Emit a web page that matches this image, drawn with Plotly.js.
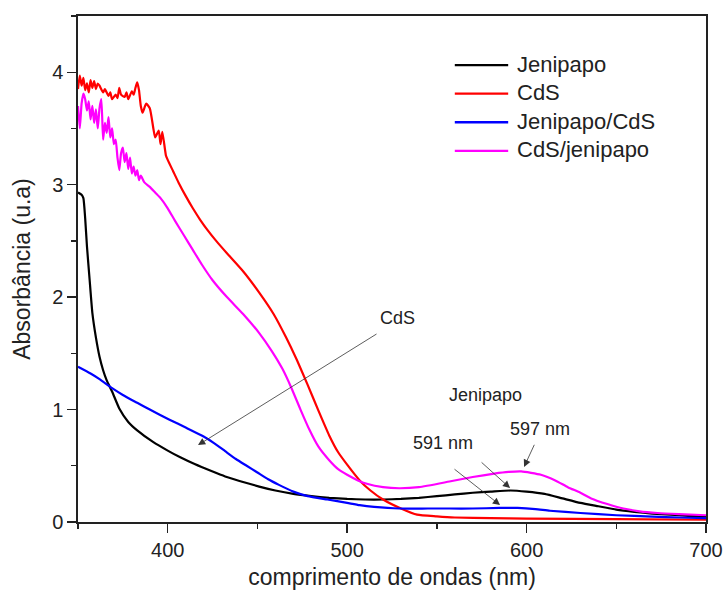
<!DOCTYPE html>
<html>
<head>
<meta charset="utf-8">
<script src="https://cdn.plot.ly/plotly-3.0.1.min.js"></script>
<style>
  html, body { margin: 0; padding: 0; background: #fff; }
  #chart { width: 724px; height: 601px; }
</style>
</head>
<body>
<div id="chart"></div>
<script>
// UV-Vis absorption spectra (wavelength in nm, absorbance in a.u.)

const jenipapoX = [350, 352, 353, 354, 355, 356.5, 358, 360, 362, 364, 366, 369, 373, 378, 383, 392, 400, 407, 415, 424, 432, 440, 451, 460, 470, 480, 490, 500, 510, 520, 530, 540, 550, 560, 570, 580, 591, 600, 610, 620, 630, 640, 650, 660, 670, 680, 690, 700];
const jenipapoY = [2.93, 2.91, 2.88, 2.70, 2.45, 2.15, 1.86, 1.64, 1.47, 1.35, 1.26, 1.16, 1.01, 0.89, 0.815, 0.71, 0.635, 0.575, 0.515, 0.455, 0.405, 0.365, 0.315, 0.28, 0.25, 0.23, 0.215, 0.205, 0.20, 0.20, 0.205, 0.215, 0.23, 0.245, 0.26, 0.27, 0.28, 0.27, 0.25, 0.21, 0.17, 0.14, 0.11, 0.09, 0.075, 0.065, 0.055, 0.05];

const cdsX = [350, 351, 352, 353, 354, 355, 356, 357, 358, 359, 360, 361, 362, 364, 365, 367, 368, 369, 371, 372, 373, 374, 376, 377, 378, 380, 381, 382, 383, 384, 385, 386, 388, 390, 392, 393, 395, 396, 397, 399, 400, 403, 406, 410, 414, 418, 422, 427, 433, 442, 451, 459, 466, 472, 478, 484, 490, 495, 500, 507, 513, 520, 530, 539, 550, 560, 580, 600, 650, 700];
const cdsY = [3.85, 3.97, 3.88, 3.95, 3.84, 3.90, 3.82, 3.93, 3.86, 3.92, 3.85, 3.90, 3.88, 3.82, 3.85, 3.79, 3.82, 3.76, 3.80, 3.77, 3.86, 3.80, 3.78, 3.82, 3.76, 3.83, 3.80, 3.86, 3.91, 3.84, 3.70, 3.64, 3.72, 3.68, 3.50, 3.42, 3.48, 3.36, 3.47, 3.26, 3.22, 3.12, 3.02, 2.90, 2.79, 2.69, 2.60, 2.50, 2.39, 2.23, 2.04, 1.85, 1.64, 1.44, 1.22, 0.99, 0.77, 0.62, 0.51, 0.37, 0.28, 0.20, 0.12, 0.065, 0.05, 0.04, 0.035, 0.03, 0.025, 0.02];

const jenCdsX = [350, 357, 362, 369, 375, 383, 390, 401, 410, 420, 426, 432, 438, 444, 450, 456, 462, 470, 478, 489, 500, 507, 515, 529, 545, 557, 570, 585, 595, 605, 613, 630, 650, 670, 685, 700];
const jenCdsY = [1.38, 1.32, 1.27, 1.19, 1.13, 1.06, 1.00, 0.91, 0.84, 0.76, 0.70, 0.63, 0.56, 0.50, 0.44, 0.38, 0.33, 0.27, 0.23, 0.20, 0.17, 0.15, 0.135, 0.12, 0.12, 0.12, 0.12, 0.125, 0.125, 0.115, 0.10, 0.08, 0.06, 0.048, 0.04, 0.035];

const cdsJenX = [350, 351, 352, 353, 354, 355, 356, 357, 358, 359, 360, 361, 362, 363, 364, 365, 366, 367, 368, 369, 370, 371, 372, 373, 374, 375, 376, 377, 378, 379, 380, 381, 382, 383, 384, 385, 387, 390, 393, 396, 400, 404, 409, 414, 419, 425, 433, 442, 451, 458, 464, 469, 474, 479, 484, 490, 495, 500, 506, 511, 520, 529, 540, 557, 570, 582, 590, 597, 608, 616, 623, 630, 636, 645, 654, 663, 673, 685, 700];
const cdsJenY = [3.70, 3.50, 3.72, 3.81, 3.76, 3.66, 3.74, 3.58, 3.70, 3.55, 3.67, 3.50, 3.68, 3.76, 3.40, 3.55, 3.46, 3.60, 3.42, 3.50, 3.36, 3.40, 3.24, 3.13, 3.28, 3.33, 3.20, 3.28, 3.14, 3.24, 3.10, 3.16, 3.08, 3.13, 3.04, 3.08, 3.02, 2.98, 2.93, 2.88, 2.79, 2.68, 2.55, 2.42, 2.29, 2.15, 2.00, 1.85, 1.68, 1.52, 1.36, 1.19, 1.00, 0.82, 0.67, 0.55, 0.47, 0.42, 0.37, 0.34, 0.31, 0.30, 0.31, 0.36, 0.40, 0.43, 0.445, 0.45, 0.42, 0.37, 0.31, 0.26, 0.21, 0.16, 0.12, 0.095, 0.08, 0.07, 0.06];

const seriesNames = ['Jenipapo', 'CdS', 'Jenipapo/CdS', 'CdS/jenipapo'];
const seriesColors = ['#000000', '#ff0000', '#0000ff', '#ff00ff'];

const xTickVals = [400, 500, 600, 700];
const yTickVals = [0, 1, 2, 3, 4];

const FONT = 'Liberation Sans, Arial, sans-serif';
const TEXT = '#222222';

const xs = [jenipapoX, cdsX, jenCdsX, cdsJenX];
const ys = [jenipapoY, cdsY, jenCdsY, cdsJenY];

const traces = seriesNames.map((name, i) => ({
  x: xs[i],
  y: ys[i],
  name: name,
  type: 'scatter',
  mode: 'lines',
  line: { color: seriesColors[i], width: 2.2, shape: 'spline', smoothing: 0.5 },
  showlegend: false,
  hoverinfo: 'skip'
}));

// legend block: a sample stroke and a name per series, stacked top-right
const legendTop = 0.903, legendStep = 0.0565;
const legendShapes = seriesNames.map((name, i) => ({
  type: 'line', xref: 'paper', yref: 'paper',
  x0: 0.600, x1: 0.685,
  y0: legendTop - i * legendStep, y1: legendTop - i * legendStep,
  line: { color: seriesColors[i], width: 2.4 }
}));
const legendLabels = seriesNames.map((name, i) => ({
  xref: 'paper', yref: 'paper',
  x: 0.696, y: legendTop - i * legendStep + 0.002,
  xanchor: 'left', yanchor: 'middle',
  text: name, showarrow: false,
  font: { family: FONT, size: 22, color: TEXT }
}));

// arrow-only annotations: head at (x, y), tail at (ax, ay)
function arrow(x, y, ax, ay) {
  return {
    x: x, y: y, ax: ax, ay: ay,
    xref: 'x', yref: 'y', axref: 'x', ayref: 'y',
    text: '', showarrow: true,
    arrowhead: 2, arrowsize: 1.8, arrowwidth: 0.8,
    arrowcolor: '#333333', standoff: 0, startstandoff: 0
  };
}
function label(text, x, y) {
  return {
    x: x, y: y, xref: 'x', yref: 'y', text: text, showarrow: false,
    font: { family: FONT, size: 18, color: TEXT }
  };
}

const layout = {
  width: 724,
  height: 601,
  margin: { l: 78, r: 18, t: 16, b: 79 },
  paper_bgcolor: '#ffffff',
  plot_bgcolor: '#ffffff',
  font: { family: FONT, color: TEXT },
  showlegend: false,
  xaxis: {
    range: [350, 700],
    tickvals: xTickVals,
    ticktext: xTickVals.map(String),
    ticks: 'outside', ticklen: 9, tickwidth: 1.4, tickcolor: TEXT,
    minor: { dtick: 50, tick0: 350, ticks: 'outside', ticklen: 5, tickwidth: 1.4, tickcolor: TEXT },
    showline: true, linecolor: TEXT, linewidth: 1.6, mirror: true,
    showgrid: false, zeroline: false,
    tickfont: { family: FONT, size: 20, color: TEXT },
    title: { text: 'comprimento de ondas (nm)', font: { family: FONT, size: 23, color: TEXT }, standoff: 9 }
  },
  yaxis: {
    range: [0, 4.5],
    tickvals: yTickVals,
    ticktext: yTickVals.map(String),
    ticks: 'outside', ticklen: 9, tickwidth: 1.4, tickcolor: TEXT,
    minor: { dtick: 0.5, tick0: 0, ticks: 'outside', ticklen: 5, tickwidth: 1.4, tickcolor: TEXT },
    showline: true, linecolor: TEXT, linewidth: 1.6, mirror: true,
    showgrid: false, zeroline: false,
    tickfont: { family: FONT, size: 20, color: TEXT },
    title: { text: 'Absorbância (u.a)', font: { family: FONT, size: 23, color: TEXT }, standoff: 15 }
  },
  shapes: legendShapes,
  annotations: legendLabels.concat([
    label('CdS', 528, 1.81),
    arrow(416.9, 0.684, 517.2, 1.68),
    label('Jenipapo', 577, 1.13),
    label('597 nm', 607.5, 0.83),
    arrow(598.6, 0.49, 604.7, 0.70),
    label('591 nm', 553.5, 0.70),
    arrow(590.8, 0.302, 574.1, 0.542),
    arrow(585.2, 0.151, 559.0, 0.48)
  ])
};

Plotly.newPlot('chart', traces, layout, { displayModeBar: false, staticPlot: true });
</script>
</body>
</html>
